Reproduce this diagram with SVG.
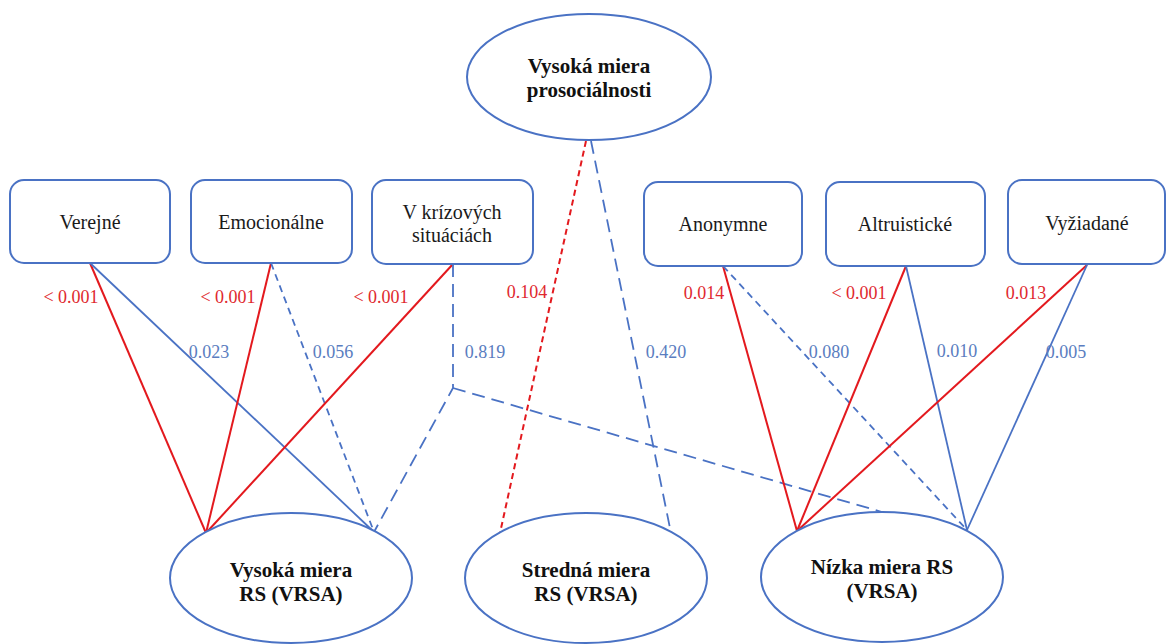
<svg xmlns="http://www.w3.org/2000/svg" width="1170" height="644" viewBox="0 0 1170 644">
<style>
.box{fill:#fff;stroke:#4A72C4;stroke-width:2}
.ell{fill:#fff;stroke:#4A72C4;stroke-width:2}
.t{font-family:"Liberation Serif","DejaVu Serif",serif;font-size:20px;fill:#1a1a1a;text-anchor:middle}
.tb{font-family:"Liberation Serif","DejaVu Serif",serif;font-size:21px;font-weight:bold;fill:#111;text-anchor:middle}
.r{stroke:#E3191E;stroke-width:2;fill:none}
.b{stroke:#4A72C4;stroke-width:1.8;fill:none}
.ds{stroke-dasharray:7 5}
.dr{stroke-dasharray:6 4}
.dl{stroke-dasharray:13 7}
.lr{font-family:"Liberation Serif","DejaVu Serif",serif;font-size:18px;fill:#E0282E;text-anchor:middle}
.lb{font-family:"Liberation Serif","DejaVu Serif",serif;font-size:18px;fill:#5A7DC0;text-anchor:middle}
</style>
<rect width="1170" height="644" fill="#fff"/>
<g id="connectors">
<line class="r" x1="90" y1="263" x2="206" y2="533"/>
<line class="b" x1="90" y1="263" x2="374" y2="532"/>
<line class="r" x1="271" y1="263" x2="206" y2="533"/>
<line class="b ds" x1="271" y1="263" x2="374" y2="532"/>
<line class="r" x1="453" y1="264" x2="206" y2="533"/>
<path class="b dl" d="M453,264 L453,388 L374,532"/>
<path class="b dl" d="M453,388 L882,512"/>
<line class="r dr" x1="586" y1="141" x2="500" y2="533"/>
<line class="b dl" x1="591" y1="141" x2="671" y2="533"/>
<line class="r" x1="723" y1="266" x2="797" y2="531"/>
<line class="b ds" x1="723" y1="266" x2="967" y2="530"/>
<line class="r" x1="906" y1="266" x2="797" y2="531"/>
<line class="b" x1="906" y1="266" x2="967" y2="530"/>
<line class="r" x1="1087" y1="265" x2="797" y2="531"/>
<line class="b" x1="1087" y1="265" x2="967" y2="530"/>
</g>
<g id="labels">
<text class="lr" x="71" y="303">&lt; 0.001</text>
<text class="lr" x="228" y="303">&lt; 0.001</text>
<text class="lr" x="381" y="303">&lt; 0.001</text>
<text class="lr" x="527" y="298">0.104</text>
<text class="lb" x="209" y="358">0.023</text>
<text class="lb" x="333" y="358">0.056</text>
<text class="lb" x="485" y="358">0.819</text>
<text class="lb" x="666" y="358">0.420</text>
<text class="lr" x="704" y="299">0.014</text>
<text class="lr" x="859" y="299">&lt; 0.001</text>
<text class="lr" x="1026" y="299">0.013</text>
<text class="lb" x="829" y="358">0.080</text>
<text class="lb" x="957" y="357">0.010</text>
<text class="lb" x="1066" y="358">0.005</text>
</g>
<g id="n-top"><ellipse class="ell" cx="589" cy="77" rx="122" ry="63"/><text class="tb" x="589" y="73">Vysoká miera</text><text class="tb" x="589" y="97">prosociálnosti</text></g>
<g id="n-verejne"><rect class="box" x="10" y="180" width="160" height="83" rx="14"/><text class="t" x="90" y="229">Verejné</text></g>
<g id="n-emocionalne"><rect class="box" x="191" y="180" width="161" height="83" rx="14"/><text class="t" x="271" y="229">Emocionálne</text></g>
<g id="n-krizove"><rect class="box" x="372" y="180" width="161" height="84" rx="14"/><text class="t" x="452" y="219">V krízových</text><text class="t" x="452" y="242">situáciách</text></g>
<g id="n-anonymne"><rect class="box" x="644" y="182" width="158" height="84" rx="14"/><text class="t" x="723" y="231">Anonymne</text></g>
<g id="n-altruisticke"><rect class="box" x="826" y="182" width="159" height="84" rx="14"/><text class="t" x="905" y="231">Altruistické</text></g>
<g id="n-vyziadane"><rect class="box" x="1008" y="180" width="157" height="84" rx="14"/><text class="t" x="1087" y="230">Vyžiadané</text></g>
<g id="n-vysoka"><ellipse class="ell" cx="291" cy="578" rx="121" ry="65"/><text class="tb" x="291" y="577">Vysoká miera</text><text class="tb" x="291" y="601">RS (VRSA)</text></g>
<g id="n-stredna"><ellipse class="ell" cx="586" cy="578" rx="121" ry="65"/><text class="tb" x="586" y="577">Stredná miera</text><text class="tb" x="586" y="601">RS (VRSA)</text></g>
<g id="n-nizka"><ellipse class="ell" cx="882" cy="577" rx="121" ry="65"/><text class="tb" x="882" y="574">Nízka miera RS</text><text class="tb" x="882" y="598">(VRSA)</text></g>
</svg>
